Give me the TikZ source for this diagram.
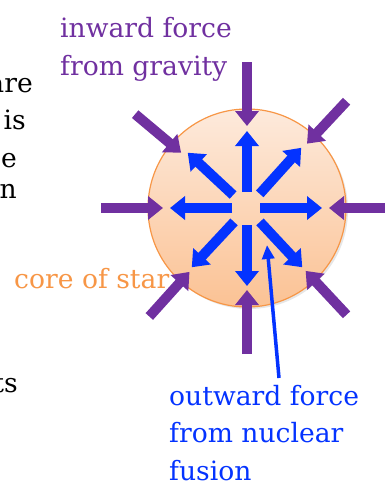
\documentclass[tikz,border=0pt]{standalone}
\usepackage{fontspec}
\setmainfont{DejaVu Serif}
\usepackage{tikz}
\usetikzlibrary{arrows.meta,shadows,calc}
\definecolor{gravpurple}{HTML}{7030A0}
\definecolor{fusionblue}{HTML}{0433FF}
\definecolor{coreorange}{HTML}{F79646}
\definecolor{coretop}{HTML}{FDEADC}
\definecolor{corebottom}{HTML}{FBC294}

\begin{document}
\begin{tikzpicture}[x=1pt, y=-1pt,
  lbl/.style={font=\fontsize{26.6}{37.5}\selectfont, align=left, inner sep=0pt},
  inarr/.style={gravpurple, line width=10pt, -{Triangle[width=23pt,length=15pt]}},
  outarr/.style={fusionblue, line width=10pt, -{Triangle[width=23pt,length=15pt]}},
  pointer/.style={fusionblue, line width=3.5pt, -{Triangle[width=12pt,length=14pt]}},
]
\useasboundingbox (0,0) rectangle (384,485);
% core of the star
\node[circle, minimum size=198pt, draw=coreorange, line width=1.2pt,
      top color=coretop, bottom color=corebottom,
      drop shadow={opacity=0.2, shadow xshift=2pt, shadow yshift=-2pt}] (core) at (247,208) {};
% outward pushes
\foreach \a/\ri/\ro in {90/16/77, 48/19/81, 0/13/75, -47/19/81, -90/17/78, -133/19/81, 180/15/77, 137/19/81}
  \draw[outarr] ($(core.center)+(\a:\ri pt)$) -- ($(core.center)+(\a:\ro pt)$);
% inward pulls
\foreach \a/\ri in {90/82, 47/88, 0/82, -47/86, -90/82, -132/86, 180/84, 140/86}
  \draw[inarr] ($(core.center)+(\a:146pt)$) -- ($(core.center)+(\a:\ri pt)$);
% labels
\node[lbl, gravpurple, anchor=base west] (gravity) at (60,75) {inward force\\from gravity};
\node[lbl, coreorange, anchor=base west] (corelbl) at (14,288) {core of star};
\node[lbl, fusionblue, anchor=base west] (fusion) at (169,480) {outward force\\from nuclear\\fusion};
\coordinate (pointertail) at (279,378);
\coordinate (pointerhead) at (267,245);
\draw[pointer] (pointertail) -- (pointerhead);
% cut-off text at the left edge
\node[lbl, anchor=base east] (frag1) at (33,92) {are};
\node[lbl, anchor=base east] (frag2) at (26,129) {is};
\node[lbl, anchor=base east] (frag3) at (17,167) {e};
\node[lbl, anchor=base east] (frag4) at (17,198) {n};
\node[lbl, anchor=base east] (frag5) at (18,392) {ts};
\end{tikzpicture}
\end{document}
